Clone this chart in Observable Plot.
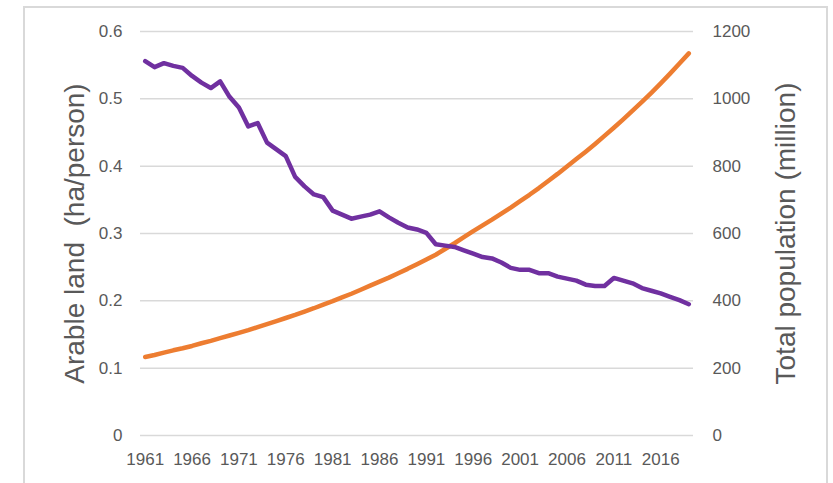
<!DOCTYPE html>
<html>
<head>
<meta charset="utf-8">
<script src="https://cdn.jsdelivr.net/npm/d3@7"></script>
<script src="https://cdn.jsdelivr.net/npm/@observablehq/plot@0.6"></script>
<style>
  body { margin: 0; background: #ffffff; }
  #wrap { position: relative; width: 833px; height: 483px; overflow: hidden; background: #ffffff; }
  #frame { position: absolute; left: 23px; top: 6px; width: 805px; height: 540px; border: 2px solid #d9d9d9; box-sizing: border-box; pointer-events: none; }
  #chart svg { display: block; }
</style>
</head>
<body>
<div id="wrap">
  <div id="chart"></div>
  <div id="frame"></div>
</div>
<script>
const years = [1961,1962,1963,1964,1965,1966,1967,1968,1969,1970,
               1971,1972,1973,1974,1975,1976,1977,1978,1979,1980,
               1981,1982,1983,1984,1985,1986,1987,1988,1989,1990,
               1991,1992,1993,1994,1995,1996,1997,1998,1999,2000,
               2001,2002,2003,2004,2005,2006,2007,2008,2009,2010,
               2011,2012,2013,2014,2015,2016,2017,2018,2019];

// Arable land (ha/person)
const arableLand = [0.556,0.547,0.553,0.549,0.546,0.534,0.524,0.516,0.526,0.503,
                    0.487,0.459,0.464,0.435,0.425,0.415,0.384,0.370,0.358,0.354,
                    0.334,0.328,0.322,0.325,0.328,0.333,0.324,0.316,0.309,0.306,
                    0.301,0.284,0.282,0.280,0.275,0.270,0.265,0.263,0.257,0.249,
                    0.246,0.246,0.241,0.241,0.236,0.233,0.230,0.224,0.222,0.222,
                    0.234,0.230,0.226,0.219,0.215,0.211,0.206,0.201,0.195];

// Total population (million)
const population = [233,239,246,253,259,266,274,281,289,297,
                    305,313,322,331,340,349,358,368,378,389,
                    399,410,421,433,445,457,469,482,495,509,
                    523,537,554,571,589,607,624,641,659,677,
                    696,715,735,756,777,799,821,843,866,890,
                    914,939,965,991,1018,1046,1075,1105,1135];

const xTicks = [1961,1966,1971,1976,1981,1986,1991,1996,2001,2006,2011,2016];
const leftTicks = [0, 0.1, 0.2, 0.3, 0.4, 0.5, 0.6];
const rightTicks = [0, 200, 400, 600, 800, 1000, 1200];
const leftTitle = "Arable land\u00a0 (ha/person)";
const rightTitle = "Total population (million)";

// right axis maximum (1200) corresponds to left axis maximum (0.6)
const popToLeft = 0.6 / 1200;

const rows = years.map((y, i) => ({year: y, land: arableLand[i], pop: population[i]}));

const gray = "#595959";

const chart = Plot.plot({
  width: 833,
  height: 483,
  marginTop: 31,
  marginBottom: 48,
  marginLeft: 140,
  marginRight: 140,
  style: {background: "transparent", fontFamily: "'Liberation Sans', Arial, sans-serif", color: gray},
  x: {domain: [1960.5, 2019.5]},
  y: {domain: [0, 0.6]},
  marks: [
    Plot.gridY(leftTicks, {stroke: "#d9d9d9", strokeOpacity: 1, strokeWidth: 1.5}),
    Plot.axisX(xTicks, {tickSize: 0, tickPadding: 17, fontSize: 17, fill: gray, tickFormat: d => String(d), label: null}),
    Plot.axisY(leftTicks, {anchor: "left", tickSize: 0, tickPadding: 18, fontSize: 17, fill: gray, tickFormat: d => String(d), label: null}),
    Plot.axisY(rightTicks.map(v => v * popToLeft), {anchor: "right", tickSize: 0, tickPadding: 19, fontSize: 17, fill: gray, tickFormat: d => String(Math.round(d / popToLeft)), label: null}),
    Plot.line(rows, {x: "year", y: d => d.pop * popToLeft, stroke: "#ED7D31", strokeWidth: 4.5, strokeLinejoin: "round", strokeLinecap: "round"}),
    Plot.line(rows, {x: "year", y: "land", stroke: "#7030A0", strokeWidth: 4.5, strokeLinejoin: "round", strokeLinecap: "round"}),
    Plot.text([leftTitle], {frameAnchor: "left", rotate: -90, dx: -65, fontSize: 28, fill: gray, textAnchor: "middle", lineAnchor: "middle"}),
    Plot.text([rightTitle], {frameAnchor: "right", rotate: -90, dx: 93, fontSize: 28, fill: gray, textAnchor: "middle", lineAnchor: "middle"})
  ]
});

document.getElementById("chart").appendChild(chart);
</script>
</body>
</html>
